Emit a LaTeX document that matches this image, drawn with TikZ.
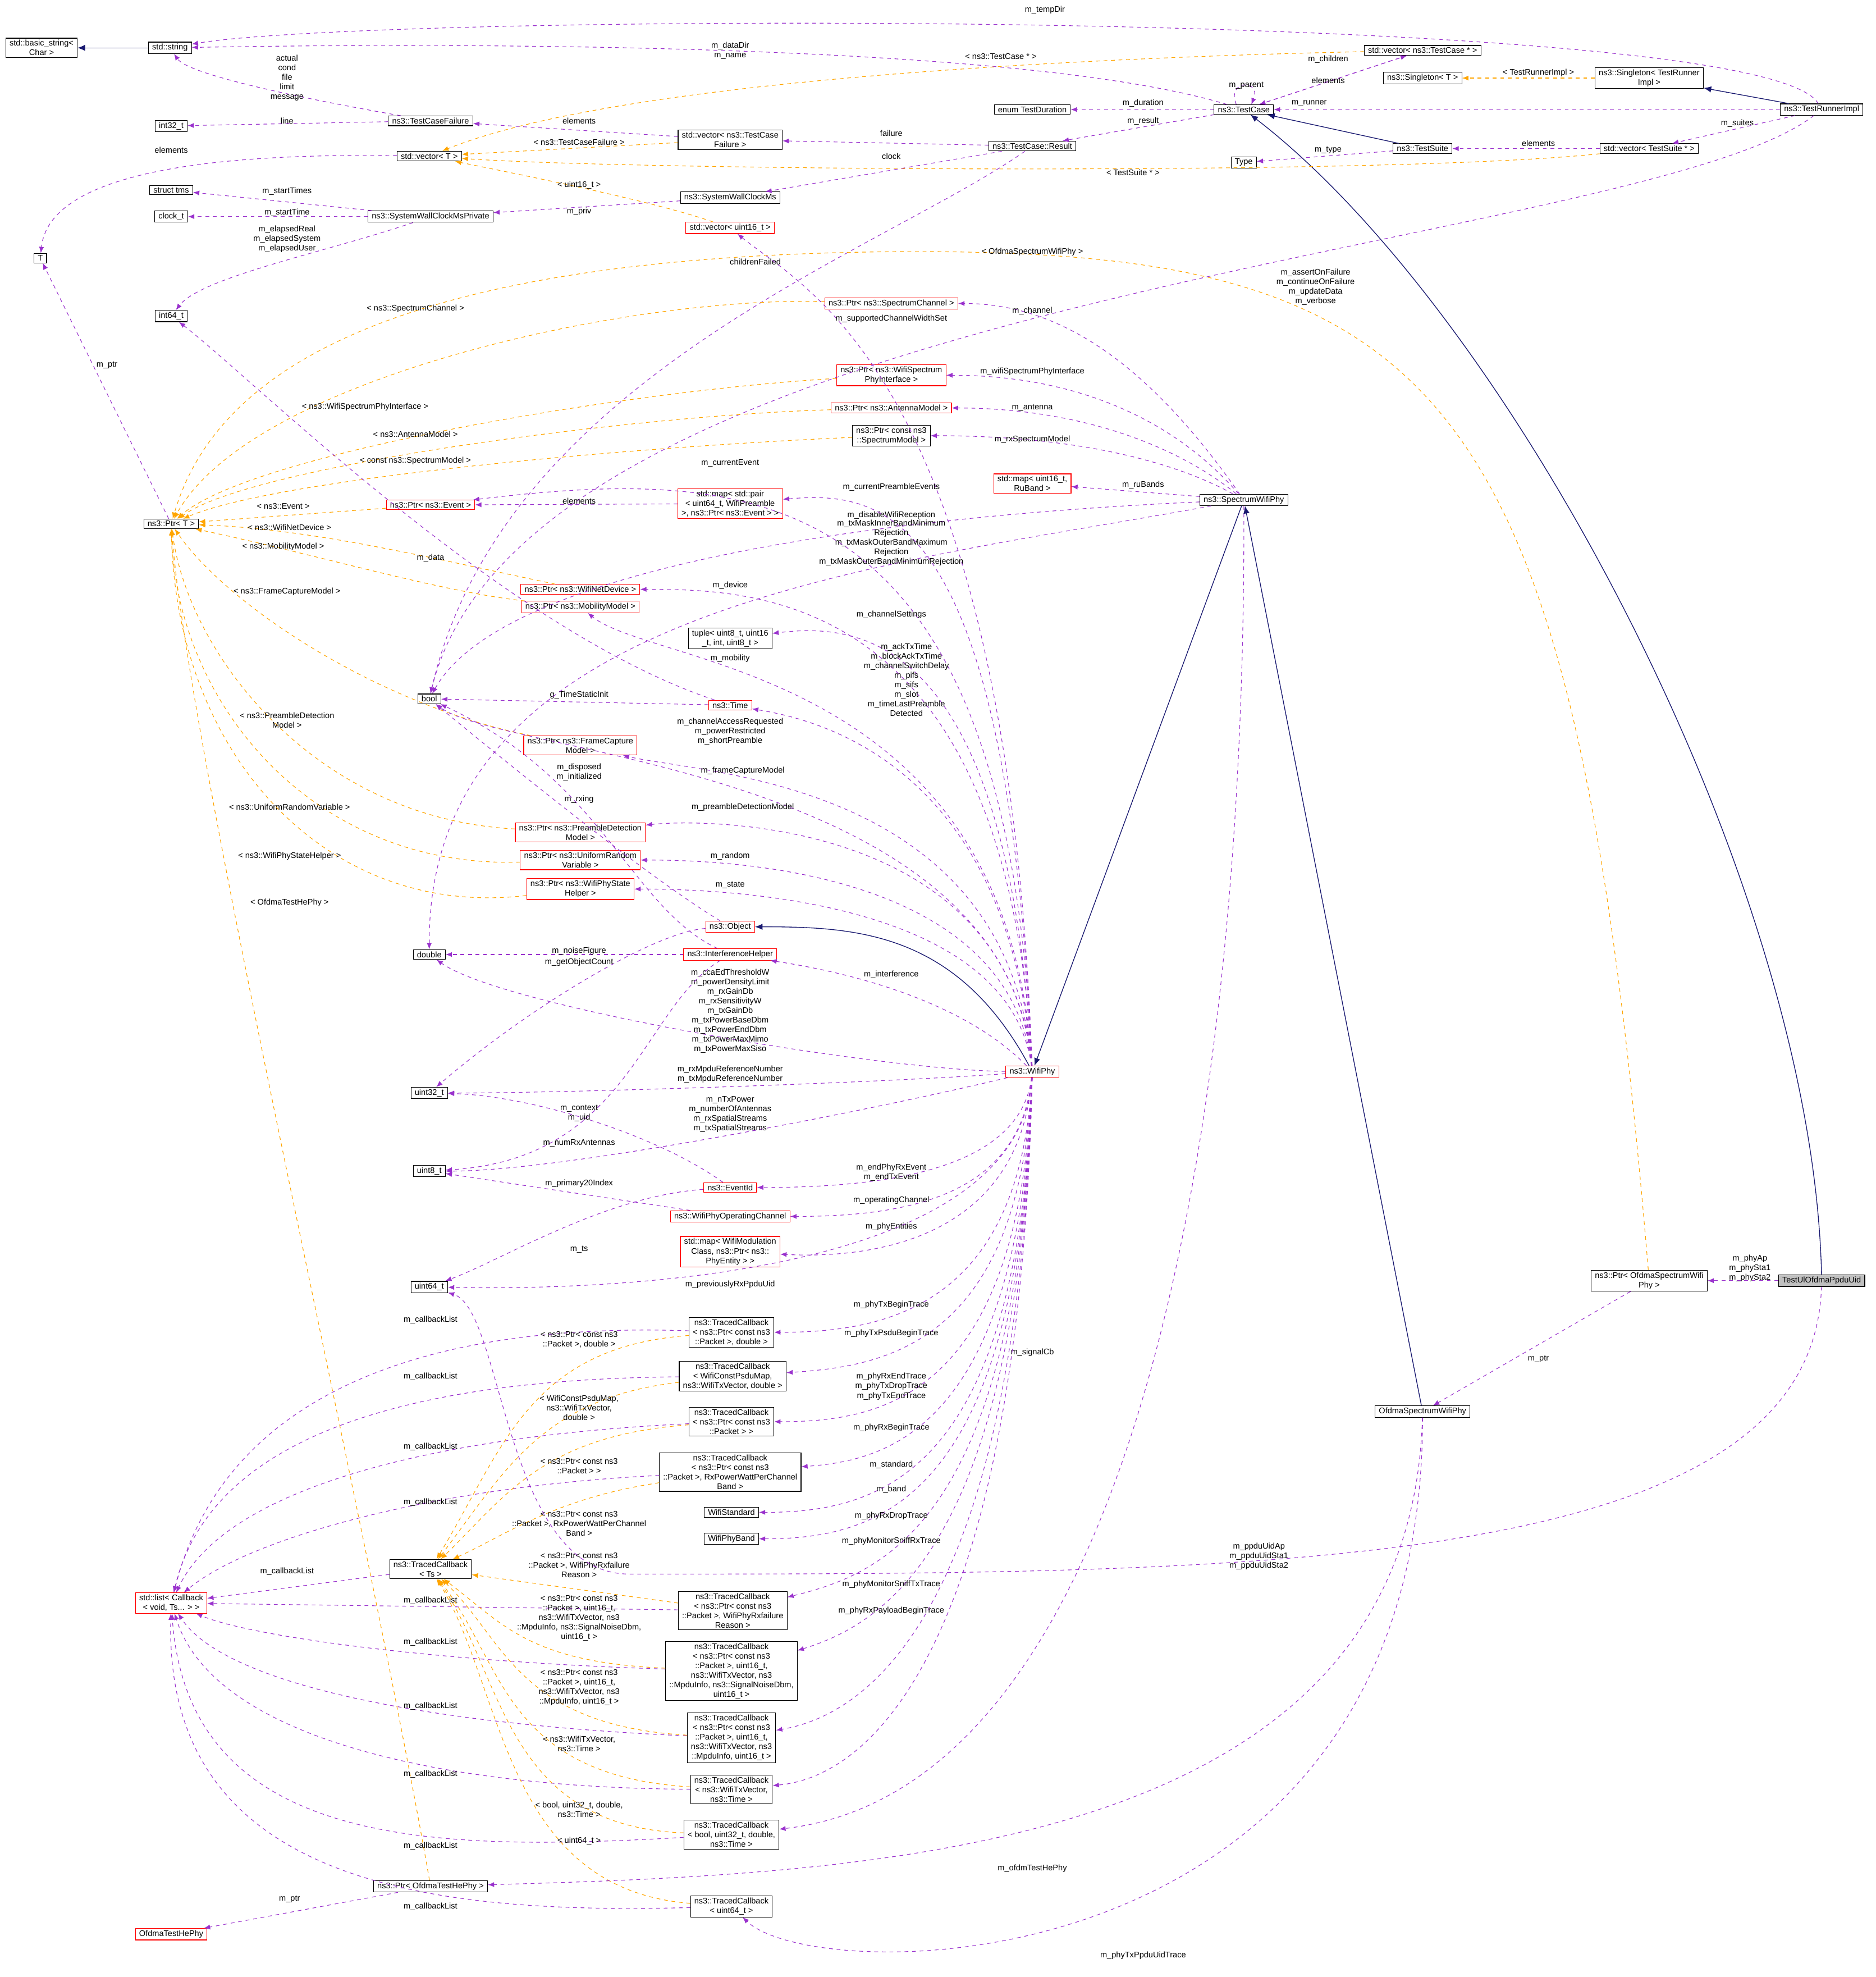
\documentclass[tikz,border=0pt]{standalone}
\usepackage{fontspec}
\setmainfont{Liberation Sans}
\usetikzlibrary{arrows.meta}
\definecolor{mp}{HTML}{9A32CD}
\definecolor{orng}{HTML}{FFA500}
\definecolor{inhb}{HTML}{191970}
\begin{document}
\begin{tikzpicture}[x=1pt,y=-1pt,
 every node/.style={font=\fontsize{6.5}{7.6}\selectfont},
 bx/.style={draw=black,fill=white,align=center,inner xsep=3pt,inner ysep=1.5pt,line width=0.5pt},
 rbx/.style={bx,draw=red},
 lbl/.style={align=center,inner sep=0pt},
 mem/.style={draw=mp,dashed,line width=0.5pt,-{Latex[length=5pt,width=4pt]}},
 tpl/.style={draw=orng,dashed,line width=0.5pt,-{Latex[length=5pt,width=4pt]}},
 inh/.style={draw=inhb,line width=0.6pt,-{Latex[length=6pt,width=5pt]}}]
\useasboundingbox (0,0) rectangle (1490,1570);
% ---- left column
\node[bx] (bs) at (33,38) {std::basic\_string<\\Char >};
\node[bx] (str) at (135,38) {std::string};
\node[bx] (i32) at (136,100) {int32\_t};
\node[bx] (tms) at (136,151) {struct tms};
\node[bx] (clk) at (136,172) {clock\_t};
\node[bx] (T) at (32,205) {T};
\node[bx] (i64) at (136,251) {int64\_t};
\node[bx] (ptrT) at (136,416) {ns3::Ptr< T >};
\node[rbx] (lst) at (136,1273) {std::list< Callback\\< void, Ts... > >};
\node[rbx] (ohe) at (136,1536) {OfdmaTestHePhy};
% ---- column 2
\node[bx] (tcf) at (342,96) {ns3::TestCaseFailure};
\node[bx] (vecT) at (341,124) {std::vector< T >};
\node[bx] (swp) at (342,172) {ns3::SystemWallClockMsPrivate};
\node[bx] (bool) at (341,555) {bool};
\node[bx] (dbl) at (341,758) {double};
\node[bx] (u32) at (341,868) {uint32\_t};
\node[bx] (u8) at (341,930) {uint8\_t};
\node[bx] (u64) at (341,1022) {uint64\_t};
\node[bx] (tcts) at (342,1246) {ns3::TracedCallback\\< Ts >};
\node[bx] (pohe) at (342,1498) {ns3::Ptr< OfdmaTestHePhy >};
\node[rbx] (pev) at (342,401) {ns3::Ptr< ns3::Event >};
% ---- column 3
\node[rbx] (pnd) at (461,468) {ns3::Ptr< ns3::WifiNetDevice >};
\node[rbx] (pmm) at (461,482) {ns3::Ptr< ns3::MobilityModel >};
\node[rbx] (pfc) at (461,592) {ns3::Ptr< ns3::FrameCapture\\Model >};
\node[rbx] (ppd) at (461,661) {ns3::Ptr< ns3::PreambleDetection\\Model >};
\node[rbx] (pur) at (461,683) {ns3::Ptr< ns3::UniformRandom\\Variable >};
\node[rbx] (psh) at (461,706) {ns3::Ptr< ns3::WifiPhyState\\Helper >};
% ---- column 4
\node[bx] (vtcf) at (580,111) {std::vector< ns3::TestCase\\Failure >};
\node[bx] (swc) at (580,157) {ns3::SystemWallClockMs};
\node[rbx] (vu16) at (580,181) {std::vector< uint16\_t >};
\node[rbx] (mpe) at (580,400) {std::map< std::pair\\< uint64\_t, WifiPreamble\\>, ns3::Ptr< ns3::Event > >};
\node[bx] (tup) at (580,507) {tuple< uint8\_t, uint16\\\_t, int, uint8\_t >};
\node[rbx] (time) at (580,560) {ns3::Time};
\node[rbx] (obj) at (580,736) {ns3::Object};
\node[rbx] (ih) at (580,758) {ns3::InterferenceHelper};
\node[rbx] (eid) at (580,943) {ns3::EventId};
\node[rbx] (woc) at (580,966) {ns3::WifiPhyOperatingChannel};
\node[rbx] (mpent) at (580,994) {std::map< WifiModulation\\Class, ns3::Ptr< ns3::\\PhyEntity > >};
\node[bx] (tc1) at (581,1058) {ns3::TracedCallback\\< ns3::Ptr< const ns3\\::Packet >, double >};
\node[bx] (tc2) at (582,1093) {ns3::TracedCallback\\< WifiConstPsduMap,\\ ns3::WifiTxVector, double >};
\node[bx] (tc3) at (581,1129) {ns3::TracedCallback\\< ns3::Ptr< const ns3\\::Packet > >};
\node[bx] (tc4) at (580,1169) {ns3::TracedCallback\\< ns3::Ptr< const ns3\\::Packet >, RxPowerWattPerChannel\\Band >};
\node[bx] (wstd) at (581,1201) {WifiStandard};
\node[bx] (wband) at (581,1222) {WifiPhyBand};
\node[bx] (tcfl) at (582,1279) {ns3::TracedCallback\\< ns3::Ptr< const ns3\\::Packet >, WifiPhyRxfailure\\Reason >};
\node[bx] (tcsn) at (581,1327) {ns3::TracedCallback\\< ns3::Ptr< const ns3\\::Packet >, uint16\_t,\\ ns3::WifiTxVector, ns3\\::MpduInfo, ns3::SignalNoiseDbm,\\ uint16\_t >};
\node[bx] (tcmp) at (581,1380) {ns3::TracedCallback\\< ns3::Ptr< const ns3\\::Packet >, uint16\_t,\\ ns3::WifiTxVector, ns3\\::MpduInfo, uint16\_t >};
\node[bx] (tctm) at (581,1421) {ns3::TracedCallback\\< ns3::WifiTxVector,\\ ns3::Time >};
\node[bx] (tcbl) at (581,1457) {ns3::TracedCallback\\< bool, uint32\_t, double,\\ ns3::Time >};
\node[bx] (tcu) at (581,1514) {ns3::TracedCallback\\< uint64\_t >};
% ---- column 5
\node[rbx] (psc) at (708,241) {ns3::Ptr< ns3::SpectrumChannel >};
\node[rbx] (pspi) at (708,298) {ns3::Ptr< ns3::WifiSpectrum\\PhyInterface >};
\node[rbx] (pam) at (708,324) {ns3::Ptr< ns3::AntennaModel >};
\node[bx] (psm) at (708,346) {ns3::Ptr< const ns3\\::SpectrumModel >};
% ---- column 6
\node[bx] (etd) at (820,87) {enum TestDuration};
\node[bx] (res) at (820,116) {ns3::TestCase::Result};
\node[rbx] (rub) at (820,384) {std::map< uint16\_t,\\RuBand >};
\node[rbx] (wp) at (820,851) {ns3::WifiPhy};
% ---- column 7
\node[bx] (tc) at (988,87) {ns3::TestCase};
\node[bx] (type) at (988,129) {Type};
\node[bx] (spw) at (988,397) {ns3::SpectrumWifiPhy};
% ---- column 8
\node[bx] (vtc) at (1130,40) {std::vector< ns3::TestCase * >};
\node[bx] (sgT) at (1130,62) {ns3::Singleton< T >};
\node[bx] (ts) at (1130,118) {ns3::TestSuite};
\node[bx] (oswp) at (1130,1121) {OfdmaSpectrumWifiPhy};
% ---- column 9
\node[bx] (sgr) at (1310,62) {ns3::Singleton< TestRunner\\Impl >};
\node[bx] (vts) at (1310,118) {std::vector< TestSuite * >};
\node[bx] (poswp) at (1310,1017) {ns3::Ptr< OfdmaSpectrumWifi\\Phy >};
\node[bx] (tri) at (1447,87) {ns3::TestRunnerImpl};
\node[bx,fill=black!25] (tul) at (1447,1017) {TestUlOfdmaPpduUid};

% ===== inheritance
\draw[inh] (str) -- (bs);
\draw[inh] (tri) -- (sgr);
\draw[inh] (ts) -- (tc);
\draw[inh] (tul) .. controls (1440,700) and (1200,250) .. (tc);
\draw[inh] (spw) -- (wp);
\draw[inh] (oswp) -- (spw);
\draw[inh] (wp) .. controls (760,740) and (680,736) .. (obj);

% ===== test framework
\draw[mem] (tri) .. controls (1400,5) and (300,10) .. (str); \node[lbl] (l1) at (830,8) {m\_tempDir};
\draw[mem] (tri) -- (tc); \node[lbl] (l2) at (1040,82) {m\_runner};
\draw[mem] (tri) -- (vts); \node[lbl] (l3) at (1380,98) {m\_suites};
\draw[mem] (tri) .. controls (1300,200) and (420,230) .. (bool); \node[lbl] (l4) at (1045,228) {m\_assertOnFailure\\m\_continueOnFailure\\m\_updateData\\m\_verbose};
\draw[tpl] (sgr) -- (sgT); \node[lbl] (l5) at (1222,58) {< TestRunnerImpl >};
\draw[mem] (vts) -- (ts); \node[lbl] (l6) at (1222,114) {elements};
\draw[tpl] (vts) .. controls (1100,140) and (500,135) .. (vecT); \node[lbl] (l7) at (900,137) {< TestSuite * >};
\draw[mem] (ts) -- (type); \node[lbl] (l8) at (1055,119) {m\_type};
\draw[mem] (tc) .. controls (800,30) and (300,35) .. (str); \node[lbl] (l9) at (580,40) {m\_dataDir\\m\_name};
\draw[mem] ([xshift=-6pt]tc.north) .. controls +(-8,-20) and +(8,-20) .. ([xshift=6pt]tc.north); \node[lbl] (l10) at (990,68) {m\_parent};
\draw[mem] (tc) -- (vtc); \node[lbl] (l11) at (1055,47) {m\_children};
\draw[mem] (vtc) -- (tc); \node[lbl] (l12) at (1055,64) {elements};
\draw[tpl] (vtc) .. controls (900,45) and (500,60) .. (vecT); \node[lbl] (l13) at (795,45) {< ns3::TestCase * >};
\draw[mem] (tc) -- (etd); \node[lbl] (l14) at (908,82) {m\_duration};
\draw[mem] (tc) -- (res); \node[lbl] (l15) at (908,96) {m\_result};
\draw[mem] (res) -- (vtcf); \node[lbl] (l16) at (708,106) {failure};
\draw[mem] (res) -- (swc); \node[lbl] (l17) at (708,124) {clock};
\draw[mem] (res) .. controls (700,200) and (400,300) .. (bool); \node[lbl] (l18) at (600,208) {childrenFailed};
\draw[mem] (vtcf) -- (tcf); \node[lbl] (l19) at (460,96) {elements};
\draw[tpl] (vtcf) -- (vecT); \node[lbl] (l20) at (460,113) {< ns3::TestCaseFailure >};
\draw[mem] (tcf) .. controls (250,80) and (150,60) .. (str); \node[lbl] (l21) at (228,62) {actual\\cond\\file\\limit\\message};
\draw[mem] (tcf) -- (i32); \node[lbl] (l22) at (228,96) {line};
\draw[mem] (swc) -- (swp); \node[lbl] (l23) at (460,168) {m\_priv};
\draw[mem] (swp) -- (tms); \node[lbl] (l24) at (228,152) {m\_startTimes};
\draw[mem] (swp) -- (clk); \node[lbl] (l25) at (228,169) {m\_startTime};
\draw[mem] (swp) .. controls (260,200) and (160,220) .. (i64); \node[lbl] (l26) at (228,190) {m\_elapsedReal\\m\_elapsedSystem\\m\_elapsedUser};
\draw[mem] (vecT) .. controls (200,122) and (40,130) .. (T); \node[lbl] (l27) at (136,119) {elements};
\draw[tpl] (vu16) .. controls (520,160) and (420,140) .. (vecT); \node[lbl] (l28) at (460,147) {< uint16\_t >};
\draw[mem] (ptrT) -- (T); \node[lbl] (l29) at (85,290) {m\_ptr};

% ===== Ptr templates
\draw[tpl] (psc) .. controls (500,235) and (200,300) .. (ptrT); \node[lbl] (l30) at (330,245) {< ns3::SpectrumChannel >};
\draw[tpl] (pspi) .. controls (500,310) and (200,360) .. (ptrT); \node[lbl] (l31) at (290,323) {< ns3::WifiSpectrumPhyInterface >};
\draw[tpl] (pam) .. controls (500,330) and (200,370) .. (ptrT); \node[lbl] (l32) at (330,345) {< ns3::AntennaModel >};
\draw[tpl] (psm) .. controls (500,355) and (220,380) .. (ptrT); \node[lbl] (l33) at (330,366) {< const ns3::SpectrumModel >};
\draw[tpl] (pev) -- (ptrT); \node[lbl] (l34) at (225,402) {< ns3::Event >};
\draw[tpl] (pnd) .. controls (350,445) and (250,420) .. (ptrT); \node[lbl] (l35) at (230,419) {< ns3::WifiNetDevice >};
\draw[tpl] (pmm) .. controls (350,470) and (250,440) .. (ptrT); \node[lbl] (l36) at (225,434) {< ns3::MobilityModel >};
\draw[tpl] (pfc) .. controls (300,560) and (180,480) .. (ptrT); \node[lbl] (l37) at (228,470) {< ns3::FrameCaptureModel >};
\draw[tpl] (ppd) .. controls (250,650) and (150,520) .. (ptrT); \node[lbl] (l38) at (228,572) {< ns3::PreambleDetection\\Model >};
\draw[tpl] (pur) .. controls (250,690) and (140,560) .. (ptrT); \node[lbl] (l39) at (230,641) {< ns3::UniformRandomVariable >};
\draw[tpl] (psh) .. controls (260,730) and (140,600) .. (ptrT); \node[lbl] (l40) at (230,680) {< ns3::WifiPhyStateHelper >};
\draw[tpl] (pohe) .. controls (290,1200) and (150,600) .. (ptrT); \node[lbl] (l41) at (230,717) {< OfdmaTestHePhy >};
\draw[tpl] (poswp) .. controls (1250,300) and (1150,195) .. (700,200) .. controls (300,205) and (170,300) .. (ptrT); \node[lbl] (l42) at (820,200) {< OfdmaSpectrumWifiPhy >};
\draw[mem] (mpe) -- (pev); \node[lbl] (l43) at (460,398) {elements};
\draw[mem] (time) .. controls (400,500) and (200,300) .. (i64); \node[lbl] (l44) at (342,443) {m\_data};
\draw[mem] (time) -- (bool); \node[lbl] (l45) at (460,552) {g\_TimeStaticInit};

% ===== SpectrumWifiPhy members
\draw[mem] (spw) .. controls (920,300) and (850,241) .. (psc); \node[lbl] (l46) at (820,247) {m\_channel};
\draw[mem] (spw) .. controls (930,330) and (850,298) .. (pspi); \node[lbl] (l47) at (820,295) {m\_wifiSpectrumPhyInterface};
\draw[mem] (spw) .. controls (930,350) and (850,324) .. (pam); \node[lbl] (l48) at (820,324) {m\_antenna};
\draw[mem] (spw) .. controls (930,365) and (850,346) .. (psm); \node[lbl] (l49) at (820,349) {m\_rxSpectrumModel};
\draw[mem] (spw) -- (rub); \node[lbl] (l50) at (908,385) {m\_ruBands};
\draw[mem] (spw) .. controls (700,410) and (400,450) .. (bool); \node[lbl] (l51) at (708,409) {m\_disableWifiReception};
\draw[mem] (spw) .. controls (700,450) and (340,480) .. (dbl); \node[lbl] (l52) at (708,431) {m\_txMaskInnerBandMinimum\\Rejection\\m\_txMaskOuterBandMaximum\\Rejection\\m\_txMaskOuterBandMinimumRejection};
\draw[mem] (spw) .. controls (990,900) and (900,1420) .. (tcbl); \node[lbl] (l53) at (820,1074) {m\_signalCb};

% ===== WifiPhy members
\draw[mem] (wp) .. controls (800,300) and (640,230) .. (vu16); \node[lbl] (l54) at (708,253) {m\_supportedChannelWidthSet};
\draw[mem] (wp) .. controls (800,380) and (600,370) .. (pev); \node[lbl] (l55) at (580,368) {m\_currentEvent};
\draw[mem] (wp) .. controls (800,400) and (700,390) .. (mpe); \node[lbl] (l56) at (708,387) {m\_currentPreambleEvents};
\draw[mem] (wp) .. controls (800,470) and (600,468) .. (pnd); \node[lbl] (l57) at (580,465) {m\_device};
\draw[mem] (wp) .. controls (800,500) and (680,495) .. (tup); \node[lbl] (l58) at (708,488) {m\_channelSettings};
\draw[mem] (wp) .. controls (800,530) and (520,530) .. (pmm); \node[lbl] (l59) at (580,523) {m\_mobility};
\draw[mem] (wp) .. controls (800,600) and (640,570) .. (time); \node[lbl] (l60) at (720,540) {m\_ackTxTime\\m\_blockAckTxTime\\m\_channelSwitchDelay\\m\_pifs\\m\_sifs\\m\_slot\\m\_timeLastPreamble\\Detected};
\draw[mem] (wp) .. controls (800,610) and (400,600) .. (bool); \node[lbl] (l61) at (580,581) {m\_channelAccessRequested\\m\_powerRestricted\\m\_shortPreamble};
\draw[mem] (wp) .. controls (800,620) and (560,615) .. (pfc); \node[lbl] (l62) at (590,612) {m\_frameCaptureModel};
\draw[mem] (wp) .. controls (800,650) and (560,650) .. (ppd); \node[lbl] (l63) at (590,641) {m\_preambleDetectionModel};
\draw[mem] (wp) .. controls (800,685) and (560,683) .. (pur); \node[lbl] (l64) at (580,680) {m\_random};
\draw[mem] (wp) .. controls (800,710) and (560,706) .. (psh); \node[lbl] (l65) at (580,703) {m\_state};
\draw[mem] (wp) .. controls (760,790) and (660,770) .. (ih); \node[lbl] (l66) at (708,774) {m\_interference};
\draw[mem] (wp) .. controls (700,850) and (400,800) .. (dbl); \node[lbl] (l67) at (580,803) {m\_ccaEdThresholdW\\m\_powerDensityLimit\\m\_rxGainDb\\m\_rxSensitivityW\\m\_txGainDb\\m\_txPowerBaseDbm\\m\_txPowerEndDbm\\m\_txPowerMaxMimo\\m\_txPowerMaxSiso};
\draw[mem] (wp) .. controls (700,860) and (450,868) .. (u32); \node[lbl] (l68) at (580,853) {m\_rxMpduReferenceNumber\\m\_txMpduReferenceNumber};
\draw[mem] (wp) .. controls (700,880) and (450,930) .. (u8); \node[lbl] (l69) at (580,885) {m\_nTxPower\\m\_numberOfAntennas\\m\_rxSpatialStreams\\m\_txSpatialStreams};
\draw[mem] (wp) .. controls (810,930) and (700,943) .. (eid); \node[lbl] (l70) at (708,931) {m\_endPhyRxEvent\\m\_endTxEvent};
\draw[mem] (wp) .. controls (810,950) and (720,966) .. (woc); \node[lbl] (l71) at (708,953) {m\_operatingChannel};
\draw[mem] (wp) .. controls (810,980) and (700,1000) .. (mpent); \node[lbl] (l72) at (708,974) {m\_phyEntities};
\draw[mem] (wp) .. controls (810,1010) and (500,1025) .. (u64); \node[lbl] (l73) at (580,1020) {m\_previouslyRxPpduUid};
\draw[mem] (wp) .. controls (810,1040) and (700,1058) .. (tc1); \node[lbl] (l74) at (708,1036) {m\_phyTxBeginTrace};
\draw[mem] (wp) .. controls (810,1070) and (700,1085) .. (tc2); \node[lbl] (l75) at (708,1059) {m\_phyTxPsduBeginTrace};
\draw[mem] (wp) .. controls (810,1110) and (700,1129) .. (tc3); \node[lbl] (l76) at (708,1101) {m\_phyRxEndTrace\\m\_phyTxDropTrace\\m\_phyTxEndTrace};
\draw[mem] (wp) .. controls (810,1140) and (700,1160) .. (tc4); \node[lbl] (l77) at (708,1134) {m\_phyRxBeginTrace};
\draw[mem] (wp) .. controls (810,1170) and (700,1201) .. (wstd); \node[lbl] (l78) at (708,1163) {m\_standard};
\draw[mem] (wp) .. controls (810,1190) and (700,1222) .. (wband); \node[lbl] (l79) at (708,1183) {m\_band};
\draw[mem] (wp) .. controls (810,1210) and (700,1250) .. (tcfl); \node[lbl] (l80) at (708,1204) {m\_phyRxDropTrace};
\draw[mem] (wp) .. controls (810,1230) and (700,1290) .. (tcsn); \node[lbl] (l81) at (708,1224) {m\_phyMonitorSniffRxTrace};
\draw[mem] (wp) .. controls (810,1260) and (700,1360) .. (tcmp); \node[lbl] (l82) at (708,1258) {m\_phyMonitorSniffTxTrace};
\draw[mem] (wp) .. controls (810,1290) and (700,1410) .. (tctm); \node[lbl] (l83) at (708,1279) {m\_phyRxPayloadBeginTrace};

% ===== Object / helpers
\draw[mem] (obj) .. controls (520,700) and (420,620) .. (bool); \node[lbl] (l84) at (460,613) {m\_disposed\\m\_initialized};
\draw[mem] (obj) .. controls (520,740) and (420,800) .. (u32); \node[lbl] (l85) at (460,764) {m\_getObjectCount};
\draw[mem] (ih) -- (dbl); \node[lbl] (l86) at (460,755) {m\_noiseFigure};
\draw[mem] (ih) .. controls (500,720) and (480,620) .. (bool); \node[lbl] (l87) at (460,635) {m\_rxing};
\draw[mem] (ih) .. controls (510,800) and (500,920) .. (u8); \node[lbl] (l88) at (460,908) {m\_numRxAntennas};
\draw[mem] (eid) .. controls (520,900) and (420,870) .. (u32); \node[lbl] (l89) at (460,884) {m\_context\\m\_uid};
\draw[mem] (eid) .. controls (480,950) and (400,1000) .. (u64); \node[lbl] (l90) at (460,992) {m\_ts};
\draw[mem] (woc) -- (u8); \node[lbl] (l91) at (460,940) {m\_primary20Index};

% ===== TracedCallbacks
\draw[mem] (tcts) -- (lst); \node[lbl] (l92) at (228,1248) {m\_callbackList};
\draw[mem] (tc1) .. controls (350,1050) and (180,1100) .. (lst); \node[lbl] (l93) at (342,1048) {m\_callbackList};
\draw[mem] (tc2) .. controls (350,1095) and (170,1130) .. (lst); \node[lbl] (l94) at (342,1093) {m\_callbackList};
\draw[mem] (tc3) .. controls (350,1140) and (180,1180) .. (lst); \node[lbl] (l95) at (342,1149) {m\_callbackList};
\draw[mem] (tc4) .. controls (350,1180) and (200,1220) .. (lst); \node[lbl] (l96) at (342,1193) {m\_callbackList};
\draw[mem] (tcfl) -- (lst); \node[lbl] (l97) at (342,1271) {m\_callbackList};
\draw[mem] (tcsn) .. controls (350,1320) and (200,1300) .. (lst); \node[lbl] (l98) at (342,1304) {m\_callbackList};
\draw[mem] (tcmp) .. controls (350,1370) and (180,1340) .. (lst); \node[lbl] (l99) at (342,1355) {m\_callbackList};
\draw[mem] (tctm) .. controls (350,1420) and (170,1380) .. (lst); \node[lbl] (l100) at (342,1409) {m\_callbackList};
\draw[mem] (tcbl) .. controls (350,1470) and (150,1470) .. (lst); \node[lbl] (l101) at (342,1466) {m\_callbackList};
\draw[mem] (tcu) .. controls (350,1520) and (130,1500) .. (lst); \node[lbl] (l102) at (342,1514) {m\_callbackList};
\draw[tpl] (tc1) .. controls (420,1070) and (400,1150) .. (tcts); \node[lbl] (l103) at (460,1064) {< ns3::Ptr< const ns3\\::Packet >, double >};
\draw[tpl] (tc2) .. controls (430,1110) and (400,1170) .. (tcts); \node[lbl] (l104) at (460,1118) {< WifiConstPsduMap,\\ns3::WifiTxVector,\\double >};
\draw[tpl] (tc3) .. controls (430,1140) and (400,1190) .. (tcts); \node[lbl] (l105) at (460,1164) {< ns3::Ptr< const ns3\\::Packet > >};
\draw[tpl] (tc4) .. controls (440,1190) and (400,1220) .. (tcts); \node[lbl] (l106) at (460,1210) {< ns3::Ptr< const ns3\\::Packet >, RxPowerWattPerChannel\\Band >};
\draw[tpl] (tcfl) -- (tcts); \node[lbl] (l107) at (460,1243) {< ns3::Ptr< const ns3\\::Packet >, WifiPhyRxfailure\\Reason >};
\draw[tpl] (tcsn) .. controls (420,1320) and (400,1290) .. (tcts); \node[lbl] (l108) at (460,1285) {< ns3::Ptr< const ns3\\::Packet >, uint16\_t,\\ns3::WifiTxVector, ns3\\::MpduInfo, ns3::SignalNoiseDbm,\\uint16\_t >};
\draw[tpl] (tcmp) .. controls (410,1370) and (400,1300) .. (tcts); \node[lbl] (l109) at (460,1340) {< ns3::Ptr< const ns3\\::Packet >, uint16\_t,\\ns3::WifiTxVector, ns3\\::MpduInfo, uint16\_t >};
\draw[tpl] (tctm) .. controls (400,1410) and (400,1320) .. (tcts); \node[lbl] (l110) at (460,1385) {< ns3::WifiTxVector,\\ns3::Time >};
\draw[tpl] (tcbl) .. controls (400,1450) and (400,1330) .. (tcts); \node[lbl] (l111) at (460,1437) {< bool, uint32\_t, double,\\ns3::Time >};
\draw[tpl] (tcu) .. controls (400,1500) and (400,1340) .. (tcts); \node[lbl] (l112) at (460,1462) {< uint64\_t >};

% ===== Ofdma
\draw[mem] (tul) -- (poswp); \node[lbl] (l113) at (1390,1007) {m\_phyAp\\m\_phySta1\\m\_phySta2};
\draw[mem] (poswp) -- (oswp); \node[lbl] (l114) at (1222,1079) {m\_ptr};
\draw[mem] (tul) .. controls (1440,1250) and (1000,1250) .. (500,1250) .. controls (400,1250) and (400,1040) .. (u64); \node[lbl] (l115) at (1000,1236) {m\_ppduUidAp\\m\_ppduUidSta1\\m\_ppduUidSta2};
\draw[mem] (oswp) .. controls (1120,1470) and (700,1488) .. (pohe); \node[lbl] (l116) at (820,1484) {m\_ofdmTestHePhy};
\draw[mem] (oswp) .. controls (1130,1580) and (650,1580) .. (tcu); \node[lbl] (l117) at (908,1553) {m\_phyTxPpduUidTrace};
\draw[mem] (pohe) -- (ohe); \node[lbl] (l118) at (230,1508) {m\_ptr};
\end{tikzpicture}
\end{document}
